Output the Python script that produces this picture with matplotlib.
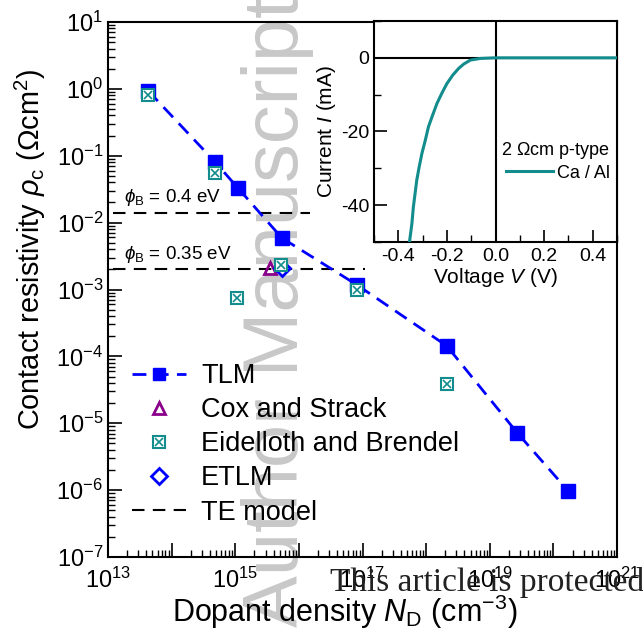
import matplotlib
matplotlib.use('Agg')
import matplotlib.pyplot as plt
from matplotlib.ticker import LogLocator, FuncFormatter, MultipleLocator, NullFormatter
from matplotlib.legend_handler import HandlerTuple
from matplotlib.lines import Line2D
import numpy as np

plt.rcParams['font.family'] = ['Liberation Sans', 'DejaVu Sans']
plt.rcParams['mathtext.fontset'] = 'custom'
plt.rcParams['mathtext.rm'] = 'Liberation Sans'
plt.rcParams['mathtext.it'] = 'Liberation Sans:italic'
plt.rcParams['mathtext.bf'] = 'Liberation Sans:bold'
plt.rcParams['mathtext.sf'] = 'Liberation Sans'
plt.rcParams['axes.unicode_minus'] = False

# ---- data ----
tlm_nd = [4.3e13, 4.8e14, 1.1e15, 5.4e15, 8.2e16, 2.1e18, 2.7e19, 1.7e20]
tlm_rho = [0.93, 0.081, 0.033, 5.9e-3, 1.17e-3, 1.44e-4, 7.2e-6, 9.8e-7]
eb_nd = [4.3e13, 4.8e14, 1.05e15, 5.3e15, 8.2e16, 2.1e18]
eb_rho = [0.81, 0.055, 7.5e-4, 2.3e-3, 1.0e-3, 3.9e-5]
cox_nd = [3.5e15]
cox_rho = [2.1e-3]
etlm_nd = [5.4e15]
etlm_rho = [2.1e-3]
te_levels = [0.014, 2.0e-3]
te_start = [1.2e13, 1.2e13]
te_end = [1.5e16, 1.1e17]
te_labels = [r'$\phi_{\rm B}$ = 0.4 eV', r'$\phi_{\rm B}$ = 0.35 eV']

iv_v = [-0.354, -0.344, -0.338, -0.324, -0.314, -0.303, -0.289, -0.276, -0.259,
        -0.241, -0.220, -0.200, -0.176, -0.152, -0.131, -0.103, -0.062, 0.0, 0.5]
iv_i = [-50.0, -45.0, -40.5, -33.2, -29.6, -26.0, -22.4, -18.75, -15.6,
        -12.4, -9.5, -7.0, -4.7, -2.9, -1.7, -0.6, -0.16, 0.0, 0.0]

blue = '#0000ff'
teal = '#128c8c'
purple = '#8b008b'

W, H = 643, 644
fig = plt.figure(figsize=(W / 100, H / 100), dpi=100)

# watermark
fig.text(278 / W, 1 - 312 / H, 'Author Manuscript', rotation=90, fontsize=56,
         color='#c8c8c8', ha='center', va='center', zorder=-1,
         family=['Liberation Sans'])

ax = fig.add_axes([108 / W, 1 - 557 / H, (617 - 108) / W, (557 - 22) / H])
ax.patch.set_alpha(0)
ax.set_xscale('log')
ax.set_yscale('log')
ax.set_xlim(1e13, 1e21)
ax.set_ylim(1e-7, 1e1)

# TE model lines
for lev, x0, x1, lab in zip(te_levels, te_start, te_end, te_labels):
    ax.plot([x0, x1], [lev, lev], color='black', lw=1.5, dashes=(6, 4), zorder=2)
    ax.text(1.8e13, lev * 1.17, lab, fontsize=13.5, ha='left', va='bottom')

ax.plot(tlm_nd, tlm_rho, color=blue, lw=2, dashes=(5, 3), marker='s', ms=9.5,
        mfc=blue, mec=blue, zorder=3)
ax.plot(cox_nd, cox_rho, ls='none', marker='^', ms=9, mfc='none', mec=purple,
        mew=2, zorder=4)
ax.plot(etlm_nd, etlm_rho, ls='none', marker='D', ms=8.5, mfc='white', mec=blue,
        mew=2, zorder=5)
ax.plot(eb_nd, eb_rho, ls='none', marker='s', ms=8, mfc='white', mec=teal,
        mew=1.5, zorder=6)
ax.plot(eb_nd, eb_rho, ls='none', marker='x', ms=6, mec=teal, mew=1.2, zorder=7)

# ticks
ax.xaxis.set_major_locator(LogLocator(base=10, numticks=20))
ax.xaxis.set_minor_locator(LogLocator(base=10, subs=np.arange(2, 10), numticks=100))
ax.xaxis.set_minor_formatter(NullFormatter())

def xfmt(v, pos):
    e = int(round(np.log10(v)))
    if e % 2 == 1:
        return r'$10^{%d}$' % e
    return ''
ax.xaxis.set_major_formatter(FuncFormatter(xfmt))
ax.yaxis.set_major_locator(LogLocator(base=10, numticks=20))
ax.yaxis.set_minor_locator(LogLocator(base=10, subs=np.arange(2, 10), numticks=100))
ax.yaxis.set_minor_formatter(NullFormatter())
ax.yaxis.set_major_formatter(FuncFormatter(lambda v, p: r'$10^{%d}$' % int(round(np.log10(v)))))
ax.tick_params(which='both', direction='in', top=False, right=False, labelsize=17)
ax.tick_params(which='major', length=10, width=1.2)
ax.tick_params(which='minor', length=5, width=1)
ax.tick_params(axis='x', pad=8)
for s in ax.spines.values():
    s.set_linewidth(1.5)

ax.set_xlabel(r'Dopant density $N_{\rm D}$ (cm$^{-3}$)', fontsize=22)
ax.xaxis.set_label_coords((345 - 108) / 509, (557 - 612) / 535)
ax.xaxis.label.set_va('center')
ax.set_ylabel(r'Contact resistivity $\rho_{\rm c}$ ($\Omega$cm$^{2}$)', fontsize=20.8)
ax.yaxis.set_label_coords((30 - 108) / 509, (557 - 249) / 535)
ax.yaxis.label.set_va('center')

# legend
h_tlm = Line2D([], [], color=blue, lw=2, dashes=(5, 3), marker='s', ms=9, mfc=blue, mec=blue)
h_cox = Line2D([], [], ls='none', marker='^', ms=9, mfc='none', mec=purple, mew=2)
h_eb1 = Line2D([], [], ls='none', marker='s', ms=8, mfc='white', mec=teal, mew=1.5)
h_eb2 = Line2D([], [], ls='none', marker='x', ms=6, mec=teal, mew=1.2)
h_etlm = Line2D([], [], ls='none', marker='D', ms=8.5, mfc='white', mec=blue, mew=2)
h_te = Line2D([], [], color='black', lw=1.5, dashes=(6, 4))
ax.legend([h_tlm, h_cox, (h_eb1, h_eb2), h_etlm, h_te],
          ['TLM', 'Cox and Strack', 'Eidelloth and Brendel', 'ETLM', 'TE model'],
          handler_map={tuple: HandlerTuple(ndivide=1, pad=0)},
          loc='upper left', bbox_to_anchor=((132 - 108) / 509, (557 - 363) / 535),
          frameon=False, fontsize=19.5, handlelength=2.0, handletextpad=0.55,
          labelspacing=0.3, borderpad=0, borderaxespad=0)

# overlay text
fig.text(330 / W, 1 - 583 / H, 'This article is protected', fontsize=24,
         family=['Liberation Serif'], color='#222222', ha='left', va='center')

# inset
ax2 = fig.add_axes([374 / W, 1 - 242 / H, (617 - 374) / W, (242 - 21) / H])
ax2.set_xlim(-0.5, 0.5)
ax2.set_ylim(-50, 10)
ax2.axhline(0, color='black', lw=1.5, zorder=1)
ax2.axvline(0, color='black', lw=1.5, zorder=1)
ax2.plot(iv_v, iv_i, color=teal, lw=2.2, zorder=3, label='Ca / Al')
ax2.xaxis.set_major_locator(MultipleLocator(0.2))
ax2.xaxis.set_minor_locator(MultipleLocator(0.1))
ax2.yaxis.set_major_locator(MultipleLocator(20))
ax2.yaxis.set_minor_locator(MultipleLocator(10))
ax2.xaxis.set_major_formatter(FuncFormatter(lambda v, p: '%.1f' % v if abs(v) < 0.49 else ''))
ax2.yaxis.set_major_formatter(FuncFormatter(lambda v, p: '%d' % round(v) if v < 5 and v > -45 else ''))
ax2.tick_params(which='both', direction='in', top=False, right=False, labelsize=14)
ax2.tick_params(which='major', length=9, width=1.2)
ax2.tick_params(which='minor', length=5, width=1)
ax2.tick_params(axis='x', pad=4)
for s in ax2.spines.values():
    s.set_linewidth(1.5)
ax2.set_xlabel(r'Voltage $V$ (V)', fontsize=15, labelpad=1)
ax2.set_ylabel(r'Current $I$ (mA)', fontsize=15, labelpad=2)
leg2 = ax2.legend(loc='upper right', bbox_to_anchor=(0.97, (242 - 140) / 221), frameon=False,
                  fontsize=13, title=r'2 $\Omega$cm p-type', title_fontsize=13,
                  handlelength=2.6, handletextpad=0.2, borderpad=0, borderaxespad=0,
                  labelspacing=0.2)
leg2._legend_box.align = 'right'

fig.savefig('out.png', dpi=100)
